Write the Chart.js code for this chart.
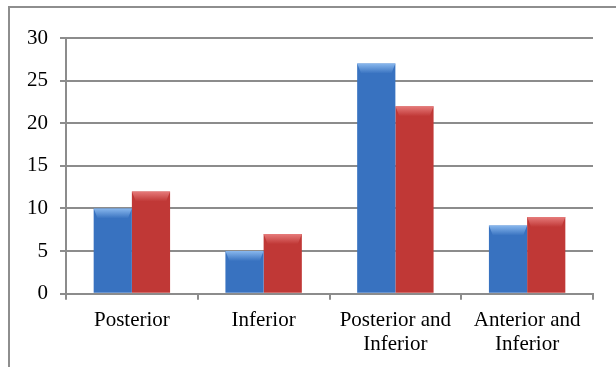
<!DOCTYPE html>
<html>
<head>
<meta charset="utf-8">
<script src="https://cdn.jsdelivr.net/npm/chart.js@4"></script>
<style>
  html, body { margin: 0; padding: 0; background: #fff; }
  #wrap { width: 616px; height: 367px; }
</style>
</head>
<body>
<div id="wrap"><canvas id="myChart" width="616" height="367"></canvas></div>
<script>
const categories = [['Posterior'], ['Inferior'], ['Posterior and', 'Inferior'], ['Anterior and', 'Inferior']];
const blueValues = [10, 5, 27, 8];
const redValues = [12, 7, 22, 9];
const yTicks = [0, 5, 10, 15, 20, 25, 30];

const serif = '"Liberation Serif", "Times New Roman", serif';

// dark edge / light middle, like the old office bevel bars
function barFill(dark, mid, light) {
  return function (c) {
    const el = c.element;
    if (!el || el.width === undefined || isNaN(el.x)) return mid;
    const left = el.x - el.width / 2;
    const g = c.chart.ctx.createLinearGradient(left, 0, left + el.width, 0);
    g.addColorStop(0, dark);
    g.addColorStop(0.1, mid);
    g.addColorStop(0.45, light);
    g.addColorStop(0.9, mid);
    g.addColorStop(1, dark);
    return g;
  };
}

const bevelColors = [['rgba(150,195,245,0.85)', 'rgba(150,195,245,0)'], ['rgba(240,140,140,0.8)', 'rgba(240,140,140,0)']];

const framePlugin = {
  id: 'frame',
  beforeDraw(chart) {
    const ctx = chart.ctx;
    ctx.save();
    ctx.strokeStyle = '#8e8e8e';
    ctx.lineWidth = 2;
    ctx.beginPath();
    ctx.moveTo(9, chart.height);
    ctx.lineTo(9, 7);
    ctx.lineTo(chart.width, 7);
    ctx.stroke();
    ctx.restore();
  }
};

const bevelPlugin = {
  id: 'bevel',
  afterDatasetsDraw(chart) {
    const ctx = chart.ctx;
    chart.data.datasets.forEach((ds, i) => {
      chart.getDatasetMeta(i).data.forEach(bar => {
        const l = bar.x - bar.width / 2, r = bar.x + bar.width / 2;
        const t = bar.y, b = 10, s = 4;
        ctx.save();
        const g = ctx.createLinearGradient(0, t, 0, t + b);
        g.addColorStop(0, bevelColors[i][0]);
        g.addColorStop(1, bevelColors[i][1]);
        ctx.fillStyle = g;
        ctx.beginPath();
        ctx.moveTo(l, t);
        ctx.lineTo(r, t);
        ctx.lineTo(r - s, t + b);
        ctx.lineTo(l + s, t + b);
        ctx.closePath();
        ctx.fill();
        ctx.restore();
      });
    });
  }
};

new Chart(document.getElementById('myChart'), {
  type: 'bar',
  data: {
    labels: categories,
    datasets: [
      {
        label: 'Series 1',
        data: blueValues,
        backgroundColor: barFill('rgb(36,80,142)', 'rgb(56,114,192)', 'rgb(68,130,212)'),
        borderWidth: 0
      },
      {
        label: 'Series 2',
        data: redValues,
        backgroundColor: barFill('rgb(135,32,32)', 'rgb(192,56,54)', 'rgb(210,70,68)'),
        borderWidth: 0
      }
    ]
  },
  options: {
    responsive: false,
    devicePixelRatio: 1,
    animation: false,
    layout: { padding: { left: 15, right: 23, top: 38, bottom: 1 } },
    plugins: {
      legend: { display: false },
      tooltip: { enabled: false }
    },
    datasets: {
      bar: { categoryPercentage: 0.58, barPercentage: 1.0 }
    },
    scales: {
      x: {
        grid: {
          offset: true,
          drawOnChartArea: false,
          drawTicks: true,
          tickLength: 6,
          color: '#8c8c8c',
          lineWidth: 2
        },
        border: { display: true, color: '#8c8c8c', width: 2 },
        ticks: {
          color: '#000',
          padding: 9,
          maxRotation: 0,
          autoSkip: false,
          font: { family: serif, size: 21, lineHeight: 1.15 }
        }
      },
      y: {
        min: 0,
        max: 30,
        afterBuildTicks(axis) {
          axis.ticks = yTicks.map(v => ({ value: v }));
        },
        grid: {
          color: '#8c8c8c',
          lineWidth: 2,
          drawTicks: true,
          tickLength: 6
        },
        border: { display: true, color: '#8c8c8c', width: 2 },
        ticks: {
          color: '#000',
          padding: 12,
          font: { family: serif, size: 21 }
        }
      }
    }
  },
  plugins: [framePlugin, bevelPlugin]
});
</script>
</body>
</html>
